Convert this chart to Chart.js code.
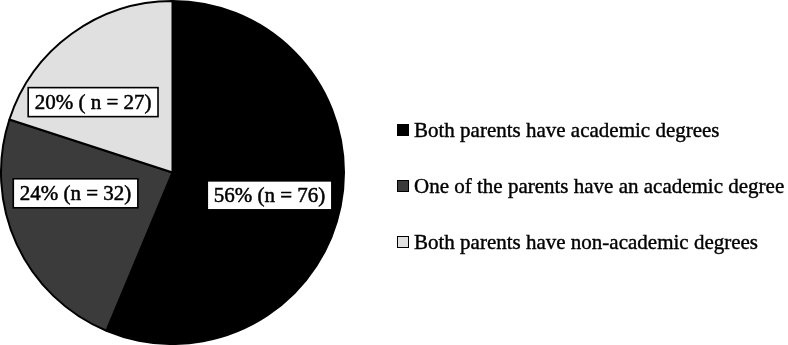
<!DOCTYPE html>
<html lang="en">
<head>
    <meta charset="UTF-8">
    <title>Parents academic degrees</title>
    <script src="https://cdn.jsdelivr.net/npm/chart.js"></script>
    <style>
        html, body { margin: 0; padding: 0; background: #fff; }
        #wrap { width: 788px; height: 345px; overflow: hidden; }
    </style>
</head>
<body>
    <div id="wrap">
        <canvas id="myChart" width="788" height="345"></canvas>
    </div>
    <script>
        // data
        let categories = ['Both parents have academic degrees', 'One of the parents have an academic degree', 'Both parents have non-academic degrees'];
        let counts = [76, 32, 27];
        let percents = [56, 24, 20];
        let sliceLabels = ['56% (n = 76)', '24% (n = 32)', '20% ( n = 27)'];

        // styles
        let sliceColors = ['#000000', '#3b3b3b', '#e0e0e0'];
        let labelNudge = [[13, 6], [-19, -15], [-29, -1]]; // shift from slice centroid
        let serif = '"Liberation Serif", "Times New Roman", serif';

        const sliceLabelPlugin = {
            id: 'sliceLabels',
            afterDatasetsDraw(chart) {
                let ctx = chart.ctx;
                let arcs = chart.getDatasetMeta(0).data;
                ctx.save();
                ctx.font = '21px ' + serif;
                ctx.textAlign = 'center';
                ctx.textBaseline = 'middle';
                arcs.forEach(function(arc, i) {
                    let p = arc.tooltipPosition();
                    let x = p.x + labelNudge[i][0];
                    let y = p.y + labelNudge[i][1];
                    let w = ctx.measureText(sliceLabels[i]).width + 13;
                    let h = 29;
                    ctx.fillStyle = '#fff';
                    ctx.fillRect(x - w / 2, y - h / 2, w, h);
                    ctx.strokeStyle = '#000';
                    ctx.lineWidth = 1.6;
                    ctx.strokeRect(x - w / 2, y - h / 2, w, h);
                    ctx.fillStyle = '#000';
                    ctx.fillText(sliceLabels[i], x, y + 1);
                    ctx.lineWidth = 0.5;
                    ctx.strokeText(sliceLabels[i], x, y + 1);
                });
                ctx.restore();
            }
        };

        const sideLegendPlugin = {
            id: 'sideLegend',
            afterDraw(chart) {
                let ctx = chart.ctx;
                let x0 = 397, y0 = 130, step = 56, box = 12;
                ctx.save();
                ctx.font = '21px ' + serif;
                ctx.textBaseline = 'middle';
                chart.data.labels.forEach(function(lbl, i) {
                    let y = y0 + i * step;
                    ctx.fillStyle = chart.data.datasets[0].backgroundColor[i];
                    ctx.fillRect(x0, y - box / 2, box, box);
                    ctx.strokeStyle = '#000';
                    ctx.lineWidth = 1;
                    ctx.strokeRect(x0 + 0.5, y - box / 2 + 0.5, box - 1, box - 1);
                    ctx.fillStyle = '#000';
                    ctx.fillText(lbl, x0 + box + 5, y + 1);
                    ctx.lineWidth = 0.4;
                    ctx.strokeText(lbl, x0 + box + 5, y + 1);
                });
                ctx.restore();
            }
        };

        let ctx = document.getElementById('myChart');
        let myChart = new Chart(ctx, {
            type: 'pie',
            data: {
                labels: categories,
                datasets: [{
                    data: counts,
                    backgroundColor: sliceColors,
                    borderColor: '#000',
                    borderWidth: 2
                }]
            },
            options: {
                responsive: false,
                animation: false,
                layout: { padding: { left: 0, top: 0, bottom: 0, right: 443 } },
                plugins: {
                    legend: { display: false },
                    tooltip: { enabled: false }
                }
            },
            plugins: [sliceLabelPlugin, sideLegendPlugin]
        });
    </script>
</body>
</html>
